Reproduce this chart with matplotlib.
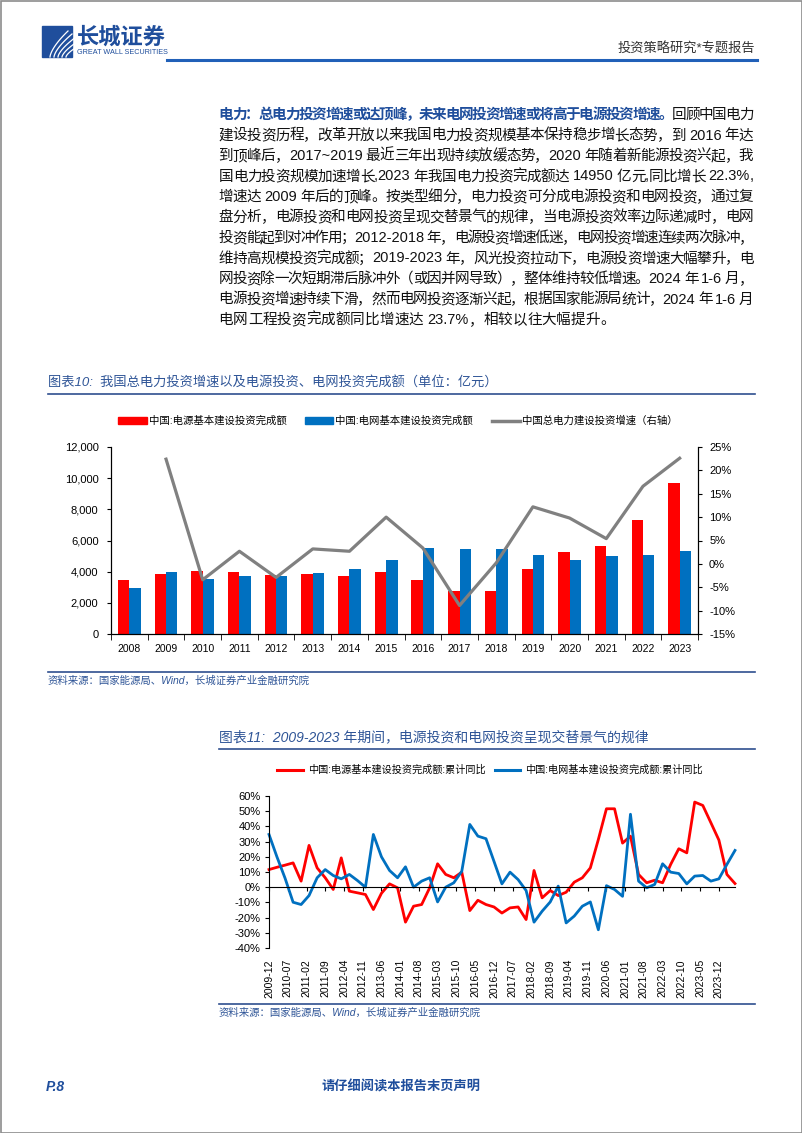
import re
import numpy as np
import pandas as pd
import matplotlib
matplotlib.use('Agg')
import matplotlib.pyplot as plt
import matplotlib.dates as mdates
from matplotlib.patches import Rectangle, Patch
from matplotlib.lines import Line2D
from matplotlib.ticker import FuncFormatter
from matplotlib.font_manager import FontProperties

plt.rcParams['font.family'] = ['Liberation Sans', 'Noto Sans CJK SC', 'DejaVu Sans']

W, H = 802, 1133
BLUE_TXT = '#2F5597'
NAVY = '#1F4E9C'

# ---- chart 10 data (亿元, %)
years = [str(y) for y in range(2008, 2024)]
source_inv = [3470, 3860, 4070, 3990, 3800, 3820, 3750, 3990, 3470, 2790, 2790, 4160, 5290, 5630, 7290, 9720]
grid_inv = [2940, 4010, 3540, 3730, 3730, 3920, 4200, 4730, 5500, 5440, 5440, 5080, 4780, 5030, 5080, 5350]
total_growth = [np.nan, 22.4, -3.4, 2.7, -2.9, 3.2, 2.7, 10.0, 3.4, -8.9, 0.2, 12.2, 9.8, 5.4, 16.6, 22.6]

# ---- chart 11 data (quarterly cumulative yoy, %)
q_start, q_end = '2009-12-01', '2024-06-01'
source_yoy = [11.6, 13.1, 14.5, 16.0, 4.0, 27.5, 12.7, 6.2, -1.5, 19.3,
              -2.6, -3.7, -4.8, -14.7, -4.0, 2.2, -0.4, -23.0, -12.5, -11.4,
              -0.4, 15.4, 8.4, 6.2, 9.9, -15.4, -8.6, -11.4, -13.0, -17.0,
              -13.6, -13.0, -21.3, 11.0, -7.0, -2.2, -5.5, -3.3, 3.3, 6.2,
              12.7, 31.4, 51.6, 51.6, 29.0, 33.6, 8.4, 2.9, 4.6, 2.9,
              15.0, 25.3, 22.6, 56.0, 53.8, 42.4, 31.0, 8.4, 2.4]
grid_yoy = [34.7, 20.0, 6.0, -9.9, -11.4, -5.5, 6.2, 11.6, 7.7, 5.5,
            8.4, 4.4, 0.0, 34.7, 20.0, 11.0, 6.2, 13.4, 0.0, 4.0,
            6.2, -9.7, 0.0, 2.9, 10.5, 41.3, 33.6, 31.9, 17.0, 2.2,
            9.9, 5.0, -2.2, -23.0, -15.8, -9.7, 0.7, -23.5, -19.0, -12.5,
            -9.7, -28.0, 1.0, -1.5, -6.0, 48.0, 4.0, -0.4, 1.8, 15.4,
            9.9, 9.0, 2.2, 7.3, 7.7, 4.0, 5.5, 15.0, 24.2]

body_lines = [
    [('电力：总电力投资增速或达顶峰，未来电网投资增速或将高于电源投资增速。', 'bold'), ('回顾中国电力', 'normal')],
    [('建设投资历程，改革开放以来我国电力投资规模基本保持稳步增长态势，到 2016 年达', 'normal')],
    [('到顶峰后，2017~2019 最近三年出现持续放缓态势，2020 年随着新能源投资兴起，我', 'normal')],
    [('国电力投资规模加速增长,2023 年我国电力投资完成额达 14950 亿元,同比增长 22.3%,', 'normal')],
    [('增速达 2009 年后的顶峰。按类型细分，电力投资可分成电源投资和电网投资，通过复', 'normal')],
    [('盘分析，电源投资和电网投资呈现交替景气的规律，当电源投资效率边际递减时，电网', 'normal')],
    [('投资能起到对冲作用；2012-2018 年，电源投资增速低迷，电网投资增速连续两次脉冲，', 'normal')],
    [('维持高规模投资完成额；2019-2023 年，风光投资拉动下，电源投资增速大幅攀升，电', 'normal')],
    [('网投资除一次短期滞后脉冲外（或因并网导致），整体维持较低增速。2024 年 1-6 月，', 'normal')],
    [('电源投资增速持续下滑，然而电网投资逐渐兴起，根据国家能源局统计，2024 年 1-6 月', 'normal')],
    [('电网工程投资完成额同比增速达 23.7%，相较以往大幅提升。', 'normal')],
]


def fbox(l, t, r, b):
    return [l / W, 1 - b / H, (r - l) / W, (b - t) / H]


fig = plt.figure(figsize=(W / 100, H / 100), dpi=100)
page = fig.add_axes([0, 0, 1, 1])
page.set_xlim(0, W)
page.set_ylim(H, 0)
page.axis('off')
page.add_patch(Rectangle((0.5, 0.5), W - 1, H - 1, fill=False, ec='#8c8c8c', lw=1.2))

# ---- header
page.add_patch(Rectangle((42, 26), 30, 31, color=NAVY))
for k in range(5):
    t = np.linspace(0, 1, 30)
    page.plot(50 + 4 * k + 18 * t ** 1.5, 57 - 26 * t + 3 * k * t, color='white', lw=0.9)
page.text(77, 38, '长城证券', fontsize=16, fontweight='bold', color=NAVY, va='center')
page.text(77, 53, 'GREAT WALL SECURITIES', fontsize=5.2, color=NAVY, va='center')
page.text(755, 49, '投资策略研究*专题报告', fontsize=9.5, color='#333333', ha='right', va='center')
page.plot([167, 757], [59.5, 59.5], color='#2160B8', lw=2.2)

# ---- body paragraph (justified)
renderer = fig.canvas.get_renderer()
x0, x1 = 218.5, 753.5
for i, segs in enumerate(body_lines):
    y = 115 + 20.5 * i
    toks = []
    for text, st in segs:
        for tok in re.findall(r'[A-Za-z0-9.%~\-]+|.', text):
            toks.append((tok, st))
    props, widths = [], []
    for tok, st in toks:
        fp = FontProperties(family=['Liberation Sans', 'Noto Sans CJK SC'], size=10.5,
                            weight='bold' if st == 'bold' else 'normal')
        w, _, _ = renderer.get_text_width_height_descent(tok, fp, ismath=False)
        props.append(fp)
        widths.append(w)
    gap = 0 if i == len(body_lines) - 1 else (x1 - x0 - sum(widths)) / (len(toks) - 1)
    x = x0
    for (tok, st), fp, w in zip(toks, props, widths):
        page.text(x, y, tok, fontproperties=fp, va='center', ha='left',
                  color=NAVY if st == 'bold' else '#111111')
        x += w + gap

# ---- chart 10 title / source
page.text(48, 383, '图表10:  我国总电力投资增速以及电源投资、电网投资完成额（单位：亿元）',
          fontsize=9.5, color=BLUE_TXT, va='center', style='italic')
page.plot([48, 755], [394, 394], color='#2F4F8F', lw=1.2)
page.plot([48, 755], [672, 672], color='#2F4F8F', lw=1.2)
page.text(48, 681, '资料来源：国家能源局、Wind，长城证券产业金融研究院', fontsize=7.5,
          color=BLUE_TXT, va='center', style='italic')

ax1 = fig.add_axes(fbox(111, 447, 698, 634))
x = np.arange(len(years))
bw = 0.31
ax1.bar(x - bw / 2, source_inv, bw, color='#FF0000', zorder=2)
ax1.bar(x + bw / 2, grid_inv, bw, color='#0070C0', zorder=2)
ax1.set_xlim(-0.5, len(years) - 0.5)
ax1.set_ylim(0, 12000)
ax1.set_yticks(range(0, 12001, 2000))
ax1.yaxis.set_major_formatter(FuncFormatter(lambda v, p: f'{v:,.0f}'))
ax1.set_xticks(x, years)
ax1.set_xticks(np.arange(-0.5, len(years)), minor=True)
ax1.tick_params(axis='x', which='major', length=0, pad=7, labelsize=7.5)
ax1.tick_params(axis='x', which='minor', length=4, direction='out')
ax1.tick_params(axis='y', length=3, labelsize=8, direction='out', pad=6)
ax1.spines['top'].set_visible(False)
for s in ax1.spines.values():
    s.set_linewidth(0.8)
ax1b = ax1.twinx()
ax1b.plot(x, total_growth, color='#808080', lw=2.3)
ax1b.set_ylim(-15, 25)
ax1b.set_yticks(range(-15, 26, 5))
ax1b.yaxis.set_major_formatter(FuncFormatter(lambda v, p: f'{v:.0f}%'))
ax1b.tick_params(axis='y', length=3, labelsize=8, direction='out', pad=5)
ax1b.spines['top'].set_visible(False)
for s in ax1b.spines.values():
    s.set_linewidth(0.8)

handles1 = [Patch(color='#FF0000'), Patch(color='#0070C0'), Line2D([], [], color='#808080', lw=2.5)]
labels1 = ['中国:电源基本建设投资完成额', '中国:电网基本建设投资完成额', '中国总电力建设投资增速（右轴）']
fig.legend(handles1, labels1, loc='center', bbox_to_anchor=(398 / W, 1 - 421 / H), ncol=3,
           frameon=False, fontsize=7.5, handlelength=2.7, handleheight=0.7,
           handletextpad=0.2, columnspacing=1.8)

# ---- chart 11
page.text(219, 737, '图表11:  2009-2023 年期间，电源投资和电网投资呈现交替景气的规律',
          fontsize=10, color=BLUE_TXT, va='center', style='italic')
page.plot([219, 755], [749, 749], color='#2F4F8F', lw=1.2)
page.plot([219, 755], [1004, 1004], color='#2F4F8F', lw=1.2)
page.text(219, 1013, '资料来源：国家能源局、Wind，长城证券产业金融研究院', fontsize=7.5,
          color=BLUE_TXT, va='center', style='italic')

qdates = mdates.date2num(pd.date_range(q_start, q_end, freq='3MS'))
tdates = pd.date_range(q_start, '2023-12-01', freq='7MS')
tnum = mdates.date2num(tdates)
tlabels = [d.strftime('%Y-%m') for d in tdates]

ax2 = fig.add_axes(fbox(269, 796, 735, 948))
ax2.plot(qdates, source_yoy, color='#FF0000', lw=2.0, clip_on=False)
ax2.plot(qdates, grid_yoy, color='#0070C0', lw=2.0, clip_on=False)
ax2.set_xlim(qdates[0], qdates[-1])
ax2.set_ylim(-40, 60)
ax2.set_yticks(range(-40, 61, 10))
ax2.yaxis.set_major_formatter(FuncFormatter(lambda v, p: f'{v:.0f}%'))
ax2.tick_params(axis='y', length=3, labelsize=8, direction='out', pad=3)
ax2.spines['top'].set_visible(False)
ax2.spines['right'].set_visible(False)
ax2.spines['bottom'].set_position(('data', 0))
ax2.set_xticks(tnum)
ax2.tick_params(axis='x', length=3, direction='out', labelbottom=False)
for s in ax2.spines.values():
    s.set_linewidth(0.8)
sec = ax2.secondary_xaxis('bottom')
sec.set_xticks(tnum, tlabels)
sec.tick_params(axis='x', length=0, rotation=90, labelsize=7.5, pad=8)
sec.spines['bottom'].set_visible(False)

handles2 = [Line2D([], [], color='#FF0000', lw=2.2), Line2D([], [], color='#0070C0', lw=2.2)]
labels2 = ['中国:电源基本建设投资完成额:累计同比', '中国:电网基本建设投资完成额:累计同比']
fig.legend(handles2, labels2, loc='center', bbox_to_anchor=(490 / W, 1 - 770 / H), ncol=2,
           frameon=False, fontsize=7.3, handlelength=2.5, handletextpad=0.5, columnspacing=0.9)

# ---- footer
page.text(46, 1087, 'P.8', fontsize=10, fontweight='bold', style='italic', color=NAVY, va='center')
page.text(401, 1087, '请仔细阅读本报告末页声明', fontsize=9.5, fontweight='bold', color=NAVY,
          va='center', ha='center')

fig.savefig('out.png', dpi=100)
